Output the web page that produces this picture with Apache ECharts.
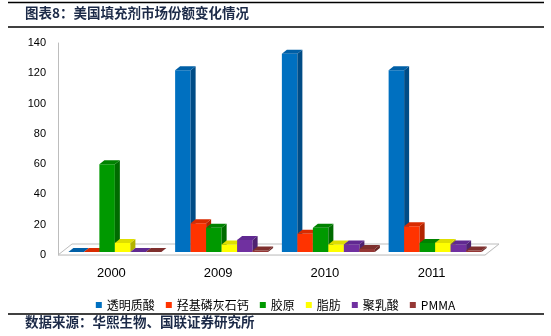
<!DOCTYPE html>
<html>
<head>
<meta charset="utf-8">
<script src="https://cdn.jsdelivr.net/npm/echarts@6/dist/echarts.min.js"></script>
<style>html,body{margin:0;padding:0;background:#fff;}#c{width:551px;height:336px;}</style>
</head>
<body>
<div id="c"></div>
<script>
var categories = ['2000', '2009', '2010', '2011'];
var seriesNames = ['透明质酸', '羟基磷灰石钙', '胶原', '脂肪', '聚乳酸', 'PMMA'];
var hyaluronic = [0, 120, 131, 120];
var calciumHA = [0, 19, 12, 17];
var collagen = [58, 16, 16, 6];
var fat = [6, 5, 5, 6];
var pla = [0, 8, 5, 5];
var pmma = [0, 1, 2, 1];
var yTicks = { min: 0, max: 140, interval: 20 };
var titleText = '图表8：美国填充剂市场份额变化情况';
var sourceText = '数据来源：华熙生物、国联证券研究所';

var values = [hyaluronic, calciumHA, collagen, fat, pla, pmma];
var faceColors = [
  ['#0070C0', '#004C86', '#005FA6'],
  ['#FF3300', '#B32400', '#D92B00'],
  ['#009900', '#006B00', '#008200'],
  ['#FFFF00', '#B3B300', '#DEDE00'],
  ['#7030A0', '#4E2270', '#602991'],
  ['#953735', '#682725', '#7E2F2D']
];
var BW = 15.5, DX = 5, DY = 4;

function barRender(idx) {
  return function (params, api) {
    var base = api.coord([api.value(0), 0]);
    var top = api.coord([api.value(0), api.value(1)]);
    var x0 = base[0] + (idx - 3) * BW + 3.5;
    var yb = base[1] - 3;
    var yt = top[1] - 3;
    var col = faceColors[idx];
    return {
      type: 'group',
      children: [
        { type: 'rect', shape: { x: x0, y: yt, width: BW, height: yb - yt }, style: { fill: col[0] } },
        { type: 'polygon', shape: { points: [[x0 + BW, yb], [x0 + BW, yt], [x0 + BW + DX, yt - DY], [x0 + BW + DX, yb - DY]] }, style: { fill: col[1] } },
        { type: 'polygon', shape: { points: [[x0, yt], [x0 + DX, yt - DY], [x0 + BW + DX, yt - DY], [x0 + BW, yt]] }, style: { fill: col[2] } }
      ]
    };
  };
}

var series = [{
  type: 'custom',
  name: 'floor',
  silent: true,
  z: 1,
  data: [[0, 0]],
  renderItem: function (params, api) {
    var cs = params.coordSys;
    var x = cs.x, y = cs.y + cs.height, w = cs.width;
    return {
      type: 'group',
      children: [
        { type: 'polygon', shape: { points: [[x, y + 1], [x + w, y + 1], [x + w + 14, y - 10], [x + 14, y - 10]] }, style: { fill: '#f4f4f4', stroke: 'none' } },
        { type: 'polygon', shape: { points: [[x, y], [x + w, y], [x + w + 14, y - 11], [x + 14, y - 11]] }, style: { fill: '#ffffff', stroke: '#bdbdbd', lineWidth: 1 } }
      ]
    };
  }
}];
for (var i = 0; i < values.length; i++) {
  series.push({
    type: 'custom',
    name: seriesNames[i],
    z: 2,
    itemStyle: { color: faceColors[i][0] },
    data: values[i].map(function (v, k) { return [k, v]; }),
    renderItem: barRender(i),
    clip: false
  });
}

var chart = echarts.init(document.getElementById('c'), null, { renderer: 'canvas' });
chart.setOption({
  animation: false,
  backgroundColor: '#fff',
  grid: { left: 58, right: 66, top: 43, bottom: 81 },
  xAxis: {
    type: 'category',
    data: categories,
    boundaryGap: true,
    axisLine: { show: false },
    axisTick: { show: false },
    axisLabel: { margin: 12, fontSize: 13, color: '#000', fontFamily: 'Liberation Sans' }
  },
  yAxis: {
    type: 'value',
    min: yTicks.min, max: yTicks.max, interval: yTicks.interval,
    axisLine: { show: true, lineStyle: { color: '#bdbdbd', width: 1 } },
    axisTick: { show: false },
    splitLine: { show: false },
    axisLabel: { margin: 12, fontSize: 11, color: '#000', fontFamily: 'Liberation Sans' }
  },
  legend: {
    data: seriesNames,
    left: 'center',
    top: 294,
    icon: 'rect',
    itemWidth: 6,
    itemHeight: 6,
    itemGap: 11,
    textStyle: { fontSize: 12, color: '#000', fontFamily: 'Noto Sans CJK SC' }
  },
  series: series,
  graphic: [
    { type: 'line', shape: { x1: 8, y1: 2.5, x2: 544, y2: 2.5 }, style: { stroke: '#000', lineWidth: 1.5 } },
    { type: 'line', shape: { x1: 8, y1: 27, x2: 544, y2: 27 }, style: { stroke: '#000', lineWidth: 1.5 } },
    { type: 'line', shape: { x1: 8, y1: 314, x2: 544, y2: 314 }, style: { stroke: '#000', lineWidth: 1.5 } },
    { type: 'text', left: 25, top: 6, style: { text: titleText, fontSize: 13.5, fontWeight: 'bold', fill: '#1c2a48', fontFamily: 'Noto Sans CJK SC' } },
    { type: 'text', left: 25, top: 315, style: { text: sourceText, fontSize: 13.5, fontWeight: 'bold', fill: '#1c2a48', fontFamily: 'Noto Sans CJK SC' } }
  ]
});
</script>
</body>
</html>
